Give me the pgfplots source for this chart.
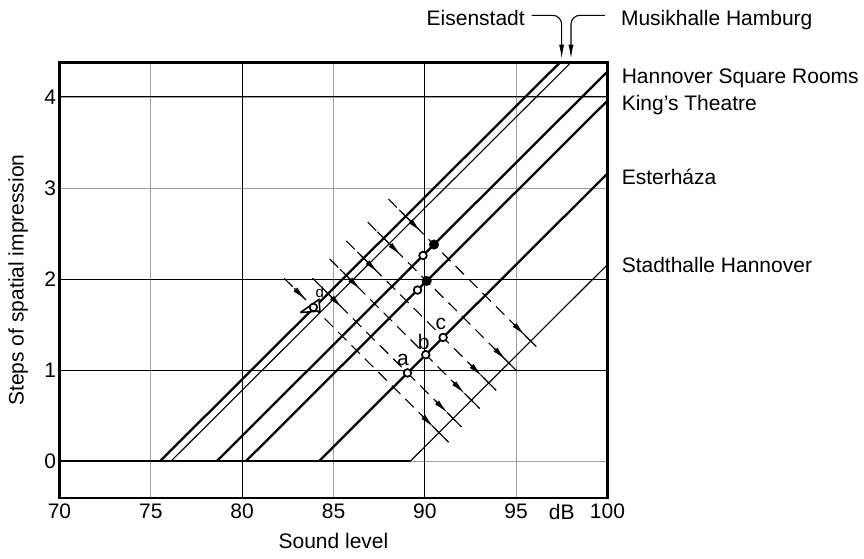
\documentclass[border=0pt]{standalone}
\usepackage{fontspec}
\setmainfont{Liberation Sans}
\usepackage{pgfplots}
\pgfplotsset{compat=1.18}
\usetikzlibrary{arrows.meta}
\begin{document}
\begin{tikzpicture}[font=\fontsize{21}{25}\selectfont]
\useasboundingbox (-59.5pt,-61.3pt) rectangle (804.5pt,497.7pt);
\begin{axis}[
  at={(0pt,0pt)}, anchor=south west,
  scale only axis, width=548pt, height=435.3pt,
  xmin=70, xmax=100, ymin=-0.4, ymax=4.38,
  xtick={70,75,80,85,90,95,100},
  ytick={0,1,2,3,4},
  extra x ticks={97.5}, extra x tick labels={dB},
  extra x tick style={grid=none},
  major tick length=0pt,
  xmajorgrids, ymajorgrids,
  major grid style={gray!75, line width=1.1pt},
  axis line style={line width=2.3pt},
  tick label style={font=\fontsize{21}{25}\selectfont},
  xticklabel style={yshift=-3pt},
  /pgf/number format/assume math mode=true,
  clip=false,
  thickline/.style={black, line width=2.3pt},
  thinline/.style={black, line width=1.1pt},
  dashline/.style={black, line width=1.1pt, dash pattern=on 12pt off 7pt},
  solidseg/.style={black, line width=1.1pt},
  arr/.style={black, line width=1.3pt, -{Latex[length=15pt,width=5.5pt]}},
  opendot/.style={only marks, mark=*, mark size=3.8pt, mark options={fill=white, draw=black, line width=1.7pt}},
  filldot/.style={only marks, mark=*, mark size=4.8pt, mark options={fill=black, draw=black}},
]
% darker grid lines
\draw[black, line width=1pt] (axis cs:80,-0.4) -- (axis cs:80,4.38);
\draw[black, line width=1pt] (axis cs:90,-0.4) -- (axis cs:90,4.38);
\draw[black, line width=1.2pt] (axis cs:70,1) -- (axis cs:100,1);
\draw[black, line width=1.2pt] (axis cs:70,2) -- (axis cs:100,2);
\draw[black, line width=1pt] (axis cs:70,4) -- (axis cs:100,4);

% baseline and hall lines
\addplot[thickline] coordinates {(70,0) (89.2,0)};
\addplot[thickline] coordinates {(75.5,0) (97.4,4.38)};   % Eisenstadt
\addplot[thinline]  coordinates {(76.1,0) (98.0,4.38)};   % Musikhalle Hamburg
\addplot[thickline] coordinates {(78.6,0) (100,4.28)};    % Hannover Square Rooms
\addplot[thickline] coordinates {(80.2,0) (100,3.96)};    % King's Theatre
\addplot[thickline] coordinates {(84.2,0) (100,3.16)};    % Esterhaza
\addplot[thinline]  coordinates {(89.2,0) (100,2.16)};    % Stadthalle Hannover

% dashed perpendicular lines
\addplot[dashline] coordinates {(88.0,2.88) (96.1,1.26)};
\addplot[dashline] coordinates {(86.87,2.626) (95.0,1.0)};
\addplot[dashline] coordinates {(85.7,2.42) (93.9,0.78)};
\addplot[dashline] coordinates {(84.8,2.22) (93.0,0.58)};
\addplot[dashline] coordinates {(83.85,2.01) (92.0,0.38)};
\addplot[dashline] coordinates {(82.3,2.01) (91.3,0.21)};
% solid crossings
\addplot[solidseg] coordinates {(88.6,2.76) (89.45,2.59)};
\addplot[solidseg] coordinates {(95.5,1.38) (96.1,1.26)};
\addplot[solidseg] coordinates {(87.4,2.52) (88.25,2.35)};
\addplot[solidseg] coordinates {(94.3,1.14) (95.0,1.0)};
\addplot[solidseg] coordinates {(86.3,2.30) (87.15,2.13)};
\addplot[solidseg] coordinates {(93.2,0.92) (93.9,0.78)};
\addplot[solidseg] coordinates {(85.35,2.11) (86.2,1.94)};
\addplot[solidseg] coordinates {(92.25,0.73) (93.0,0.58)};
\addplot[solidseg] coordinates {(84.35,1.91) (85.2,1.74)};
\addplot[solidseg] coordinates {(91.25,0.53) (92.0,0.38)};
\addplot[solidseg] coordinates {(90.5,0.37) (91.3,0.21)};
% arrows
\addplot[arr] coordinates {(89.15,2.65) (89.8,2.52)};
\addplot[arr] coordinates {(94.85,1.51) (95.5,1.38)};
\addplot[arr] coordinates {(88.05,2.39) (88.7,2.26)};
\addplot[arr] coordinates {(93.8,1.24) (94.45,1.11)};
\addplot[arr] coordinates {(86.8,2.20) (87.45,2.07)};
\addplot[arr] coordinates {(92.5,1.06) (93.15,0.93)};
\addplot[arr] coordinates {(85.85,2.01) (86.5,1.88)};
\addplot[arr] coordinates {(91.55,0.87) (92.2,0.74)};
\addplot[arr] coordinates {(84.85,1.81) (85.5,1.68)};
\addplot[arr] coordinates {(90.6,0.66) (91.25,0.53)};
\addplot[arr] coordinates {(82.85,1.90) (83.5,1.77)};
\addplot[arr] coordinates {(89.85,0.50) (90.5,0.37)};

% triangle marker
\addplot[black, line width=1.5pt, fill=white] coordinates {(83.18,1.633) (84.26,1.65) (84.2,1.776) (83.18,1.633)};
\node[font=\fontsize{15}{18}\selectfont] at (axis cs:84.25,1.86) {d};

% points
\addplot[opendot] coordinates {(89.9,2.26) (89.6,1.88) (89.05,0.97) (90.05,1.17) (91.0,1.36) (83.9,1.69)};
\addplot[filldot] coordinates {(90.5,2.38) (90.1,1.98)};

\node at (axis cs:88.8,1.109) {a};
\node at (axis cs:89.94,1.31) {b};
\node at (axis cs:90.88,1.506) {c};

% right labels
\node[anchor=base west, inner sep=0pt] at (axis cs:100.77,4.147) {Hannover Square Rooms};
\node[anchor=base west, inner sep=0pt] at (axis cs:100.77,3.847) {King’s Theatre};
\node[anchor=base west, inner sep=0pt] at (axis cs:100.77,3.042) {Esterháza};
\node[anchor=base west, inner sep=0pt] at (axis cs:100.77,2.072) {Stadthalle Hannover};
\node[anchor=base east, inner sep=0pt] at (axis cs:95.48,4.787) {Eisenstadt};
\node[anchor=base west, inner sep=0pt] at (axis cs:100.73,4.787) {Musikhalle Hamburg};
\draw[black, line width=1.1pt, rounded corners=9pt, -{Latex[length=14pt,width=5pt]}]
  (axis cs:95.85,4.897) -- (axis cs:97.49,4.897) -- (axis cs:97.49,4.42);
\draw[black, line width=1.1pt, rounded corners=9pt, -{Latex[length=14pt,width=5pt]}]
  (axis cs:99.86,4.897) -- (axis cs:98.0,4.897) -- (axis cs:98.0,4.42);

% axis titles
\node[anchor=base, inner sep=0pt] at ([yshift=-50.3pt]rel axis cs:0.5,0) {Sound level};
\node[anchor=base, inner sep=0pt, rotate=90] at ([xshift=-35.9pt]rel axis cs:0,0.5) {Steps of spatial impression};
\end{axis}
\end{tikzpicture}
\end{document}
